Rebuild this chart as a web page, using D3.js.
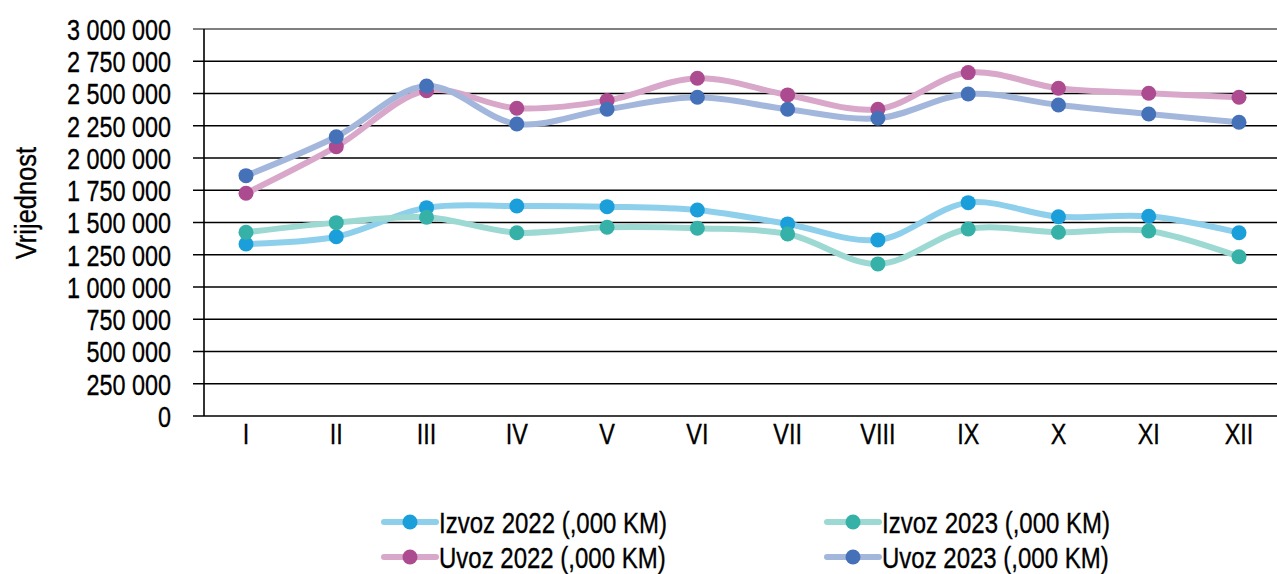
<!DOCTYPE html>
<html><head><meta charset="utf-8">
<script src="https://cdn.jsdelivr.net/npm/d3@7"></script>
<style>
body{margin:0;background:#fff;}
svg text{font-family:"Liberation Sans",Arial,sans-serif;fill:#000;stroke:#000;stroke-width:0.35px;}
</style></head>
<body><svg id="c" width="1277" height="574"></svg>
<script>
const months = ["I","II","III","IV","V","VI","VII","VIII","IX","X","XI","XII"];
const izvoz2022 = [1333000,1390000,1615000,1628000,1623000,1597000,1489000,1365000,1654000,1545000,1548000,1421000];
const izvoz2023 = [1424000,1499000,1541000,1421000,1463000,1455000,1411000,1179000,1450000,1424000,1434000,1235000];
const uvoz2022 = [1727000,2088000,2522000,2386000,2445000,2618000,2489000,2378000,2662000,2541000,2502000,2471000];
const uvoz2023 = [1863000,2165000,2558000,2264000,2378000,2471000,2378000,2308000,2496000,2411000,2341000,2277000];
const yTicks = [0,250000,500000,750000,1000000,1250000,1500000,1750000,2000000,2250000,2500000,2750000,3000000];
const seriesNames = ["Izvoz 2022 (,000 KM)","Izvoz 2023 (,000 KM)","Uvoz 2022 (,000 KM)","Uvoz 2023 (,000 KM)"];
const markerColors = ["#1b9fdb","#36b1a8","#ad4b91","#4571b8"];
const lineColors = ["#8ecfec","#9cd9d3","#d8a7ca","#a3b7dc"];

const series = [izvoz2022, izvoz2023, uvoz2022, uvoz2023].map((v,i)=>({name:seriesNames[i], values:v, mc:markerColors[i], lc:lineColors[i]}));

const svg = d3.select("#c");
const plot = {left:204, top:29, bottom:416};
const x = d3.scalePoint().domain(months).range([246,1239]);
const y = d3.scaleLinear().domain([0,3000000]).range([plot.bottom, plot.top]);
const fmt = v => d3.format(",")(v).replace(/,/g," ");

// condensed text helper
function ctext(parent, tx, ty, str, size, anchor, sx, rot){
  const g = parent.append("g").attr("transform",`translate(${tx},${ty})${rot?` rotate(${rot})`:""} scale(${sx},1)`);
  g.append("text").attr("x",0).attr("y",0).attr("dy","0.36em").attr("text-anchor",anchor||"start")
    .attr("font-size",size).text(str);
  return g;
}

// gridlines
svg.append("g").selectAll("line").data(yTicks).join("line")
  .attr("x1",193).attr("x2",1277)
  .attr("y1",d=>y(d)).attr("y2",d=>y(d))
  .attr("stroke",d=>d===3000000?"#555":"#000").attr("stroke-width",1.6);
// y axis line
svg.append("line").attr("x1",plot.left).attr("x2",plot.left).attr("y1",plot.top).attr("y2",plot.bottom)
  .attr("stroke","#000").attr("stroke-width",1.6);
// y tick labels
const yl = svg.append("g");
yTicks.forEach(t=>ctext(yl,171,y(t),fmt(t),30,"end",0.78));
// x labels
const xl = svg.append("g");
months.forEach(m=>ctext(xl,x(m),433,m,30,"middle",0.78));
// y title
ctext(svg,25,203,"Vrijednost",30,"middle",0.85,-90);

const line = d3.line().x((d,i)=>x(months[i])).y(d=>y(d)).curve(d3.curveCatmullRom.alpha(0.5));
series.forEach(s=>{
  const g = svg.append("g");
  g.append("path").attr("d",line(s.values)).attr("fill","none").attr("stroke",s.lc).attr("stroke-width",6).attr("stroke-linecap","round");
  g.selectAll("circle").data(s.values).join("circle")
    .attr("cx",(d,i)=>x(months[i])).attr("cy",d=>y(d)).attr("r",7.5).attr("fill",s.mc);
});

// legend
const legPos = [[384,522],[827,522],[384,557],[827,557]];
series.forEach((s,i)=>{
  const [lx,ly] = legPos[i];
  const g = svg.append("g");
  g.append("line").attr("x1",lx).attr("x2",lx+52).attr("y1",ly).attr("y2",ly).attr("stroke",s.lc).attr("stroke-width",6).attr("stroke-linecap","round");
  g.append("circle").attr("cx",lx+26).attr("cy",ly).attr("r",7.5).attr("fill",s.mc);
  ctext(g,lx+55,ly,s.name,30,"start",0.8);
});
</script></body></html>
